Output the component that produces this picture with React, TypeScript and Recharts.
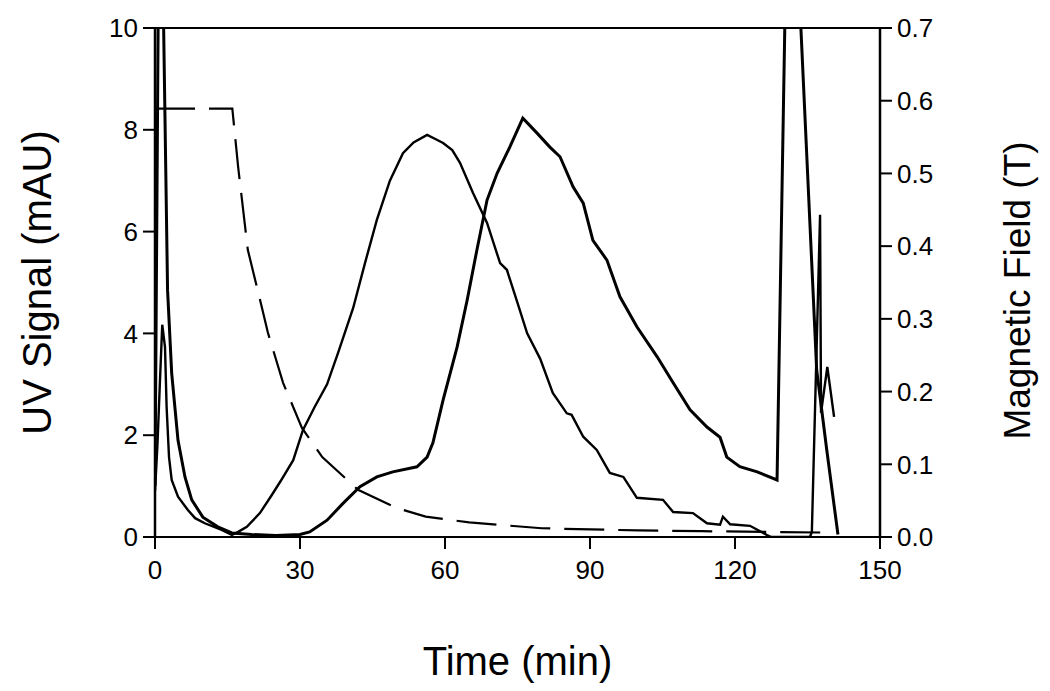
import { LineChart, Line, XAxis, YAxis, ReferenceLine, Label } from 'recharts'

// time (min), UV signal (mAU)
const uvFirst: [number, number][] = [
  [0, 0.9], [0.5, 1.8], [1.0, 3.0], [1.5, 4.17], [2.07, 3.73], [2.4, 2.56], [2.9, 1.57],
  [3.45, 1.12], [4.76, 0.79], [6.8, 0.53], [8.3, 0.37], [10.3, 0.27], [13.8, 0.14],
  [15.9, 0.04], [17.2, 0.1], [19, 0.2], [21.7, 0.47], [24, 0.8], [26, 1.1], [28.6, 1.51],
  [30.6, 2.1], [33, 2.55], [35.6, 3.0], [38, 3.65], [41, 4.5], [43.5, 5.4], [45.9, 6.23],
  [48.6, 7.0], [51.3, 7.54], [53.5, 7.75], [56.3, 7.9], [58, 7.82], [59.6, 7.74],
  [61.5, 7.6], [63.1, 7.35], [65.8, 6.76], [68.7, 6.17], [71.4, 5.38], [72.8, 5.25],
  [75, 4.6], [77, 4.0], [79.7, 3.5], [82.3, 2.83], [85.2, 2.43], [86.2, 2.4], [88.6, 1.97],
  [91.4, 1.71], [94.1, 1.26], [96.9, 1.18], [99.7, 0.77], [105.1, 0.73], [107.2, 0.49],
  [111.3, 0.47], [114.2, 0.27], [116.9, 0.24], [117.5, 0.4], [119, 0.25], [123.1, 0.22],
  [126.6, 0.04], [127.5, 0], [135.5, 0], [135.9, 0.1], [137.6, 6.33], [137.8, 2.44],
  [139.1, 3.34], [140.5, 2.36],
]

const uvSecond: [number, number][] = [
  [0, 1.0], [1.0, 15], [2.6, 4.85], [3.45, 3.22], [4.76, 1.9], [6.2, 1.18], [7.6, 0.73],
  [9.9, 0.39], [13, 0.2], [15.9, 0.08], [20, 0.05], [25, 0.03], [30, 0.05], [32, 0.1],
  [35.6, 0.33], [38.9, 0.66], [42.4, 0.99], [45.9, 1.18], [49.2, 1.28], [54.2, 1.38],
  [56.3, 1.57], [57.5, 1.85], [59.6, 2.69], [62.5, 3.73], [64.6, 4.66], [66.6, 5.64],
  [68.7, 6.62], [70.8, 7.15], [73.4, 7.66], [76.1, 8.23], [79, 7.94], [81.7, 7.66],
  [83.8, 7.47], [86.5, 6.88], [88.6, 6.56], [90.6, 5.83], [93.5, 5.44], [96.2, 4.72],
  [99.7, 4.13], [103.9, 3.54], [107.2, 3.03], [110.7, 2.5], [114.2, 2.16], [116.9, 1.96],
  [118.3, 1.57], [121, 1.38], [124.6, 1.28], [128.7, 1.12], [131.2, 15], [136.9, 3.28],
  [139, 1.7], [141.3, 0.05],
]

// time (min), magnetic field (T)
const field: [number, number][] = [
  [0, 0.589], [16, 0.589], [17.2, 0.509], [19.2, 0.395], [22.1, 0.316], [23.4, 0.28],
  [26.5, 0.212], [30.4, 0.15], [34.6, 0.11], [42, 0.065], [50, 0.04], [56, 0.028],
  [65, 0.02], [80, 0.012], [100, 0.009], [113, 0.008], [140, 0.006],
]

const timeTicks = [0, 30, 60, 90, 120, 150]
const uvTicks = [0, 2, 4, 6, 8, 10]
const fieldTicks = [0, 0.1, 0.2, 0.3, 0.4, 0.5, 0.6, 0.7]

const toRows = (pts: [number, number][]) => pts.map(([t, v]) => ({ t, v }))

const font = '"Liberation Sans", Arial, sans-serif'
const tickStyle = { fill: '#000', fontSize: 26, fontFamily: font }
const titleStyle = { fill: '#000', fontSize: 40, fontFamily: font }

export default function App() {
  return (
    <div style={{ position: 'absolute', left: 0, top: 0, background: '#fff' }}>
      <LineChart width={1050} height={691} margin={{ top: 28, right: 0, bottom: 0, left: 0 }}>
        <XAxis
          type="number"
          dataKey="t"
          domain={[0, 150]}
          ticks={timeTicks}
          allowDataOverflow
          height={154}
          tick={tickStyle}
          tickSize={12}
          tickMargin={12}
          axisLine={{ stroke: '#000', strokeWidth: 2 }}
          tickLine={{ stroke: '#000', strokeWidth: 2 }}
        >
          <Label
            content={({ viewBox }: any) => (
              <text x={viewBox.x + viewBox.width / 2} y={viewBox.y + 138} textAnchor="middle" style={titleStyle}>
                Time (min)
              </text>
            )}
          />
        </XAxis>
        <YAxis
          yAxisId="uv"
          orientation="left"
          domain={[0, 10]}
          ticks={uvTicks}
          allowDataOverflow
          width={155}
          tick={tickStyle}
          tickSize={12}
          tickMargin={5}
          axisLine={{ stroke: '#000', strokeWidth: 2.5 }}
          tickLine={{ stroke: '#000', strokeWidth: 2 }}
        >
          <Label
            content={({ viewBox }: any) => {
              const x = viewBox.x + 51
              const y = viewBox.y + viewBox.height / 2
              return (
                <text x={x} y={y} textAnchor="middle" transform={`rotate(-90, ${x}, ${y})`} style={titleStyle}>
                  UV Signal (mAU)
                </text>
              )
            }}
          />
        </YAxis>
        <YAxis
          yAxisId="mag"
          orientation="right"
          domain={[0, 0.7]}
          ticks={fieldTicks}
          allowDataOverflow
          width={170}
          tick={tickStyle}
          tickFormatter={(v: number) => v.toFixed(1)}
          tickSize={12}
          tickMargin={5}
          axisLine={{ stroke: '#000', strokeWidth: 2.5 }}
          tickLine={{ stroke: '#000', strokeWidth: 2 }}
        >
          <Label
            content={({ viewBox }: any) => {
              const x = viewBox.x + 150
              const y = viewBox.y + viewBox.height / 2 + 8
              return (
                <text x={x} y={y} textAnchor="middle" transform={`rotate(-90, ${x}, ${y})`} style={{ ...titleStyle, fontSize: 37 }}>
                  Magnetic Field (T)
                </text>
              )
            }}
          />
        </YAxis>
        <ReferenceLine yAxisId="uv" y={10} stroke="#000" strokeWidth={2} />
        <Line
          yAxisId="mag"
          data={toRows(field)}
          dataKey="v"
          type="linear"
          stroke="#000"
          strokeWidth={2.2}
          strokeDasharray="40 14"
          dot={false}
          isAnimationActive={false}
        />
        <Line
          yAxisId="uv"
          data={toRows(uvFirst)}
          dataKey="v"
          type="linear"
          stroke="#000"
          strokeWidth={2.4}
          dot={false}
          isAnimationActive={false}
        />
        <Line
          yAxisId="uv"
          data={toRows(uvSecond)}
          dataKey="v"
          type="linear"
          stroke="#000"
          strokeWidth={3}
          dot={false}
          isAnimationActive={false}
        />
      </LineChart>
    </div>
  )
}
